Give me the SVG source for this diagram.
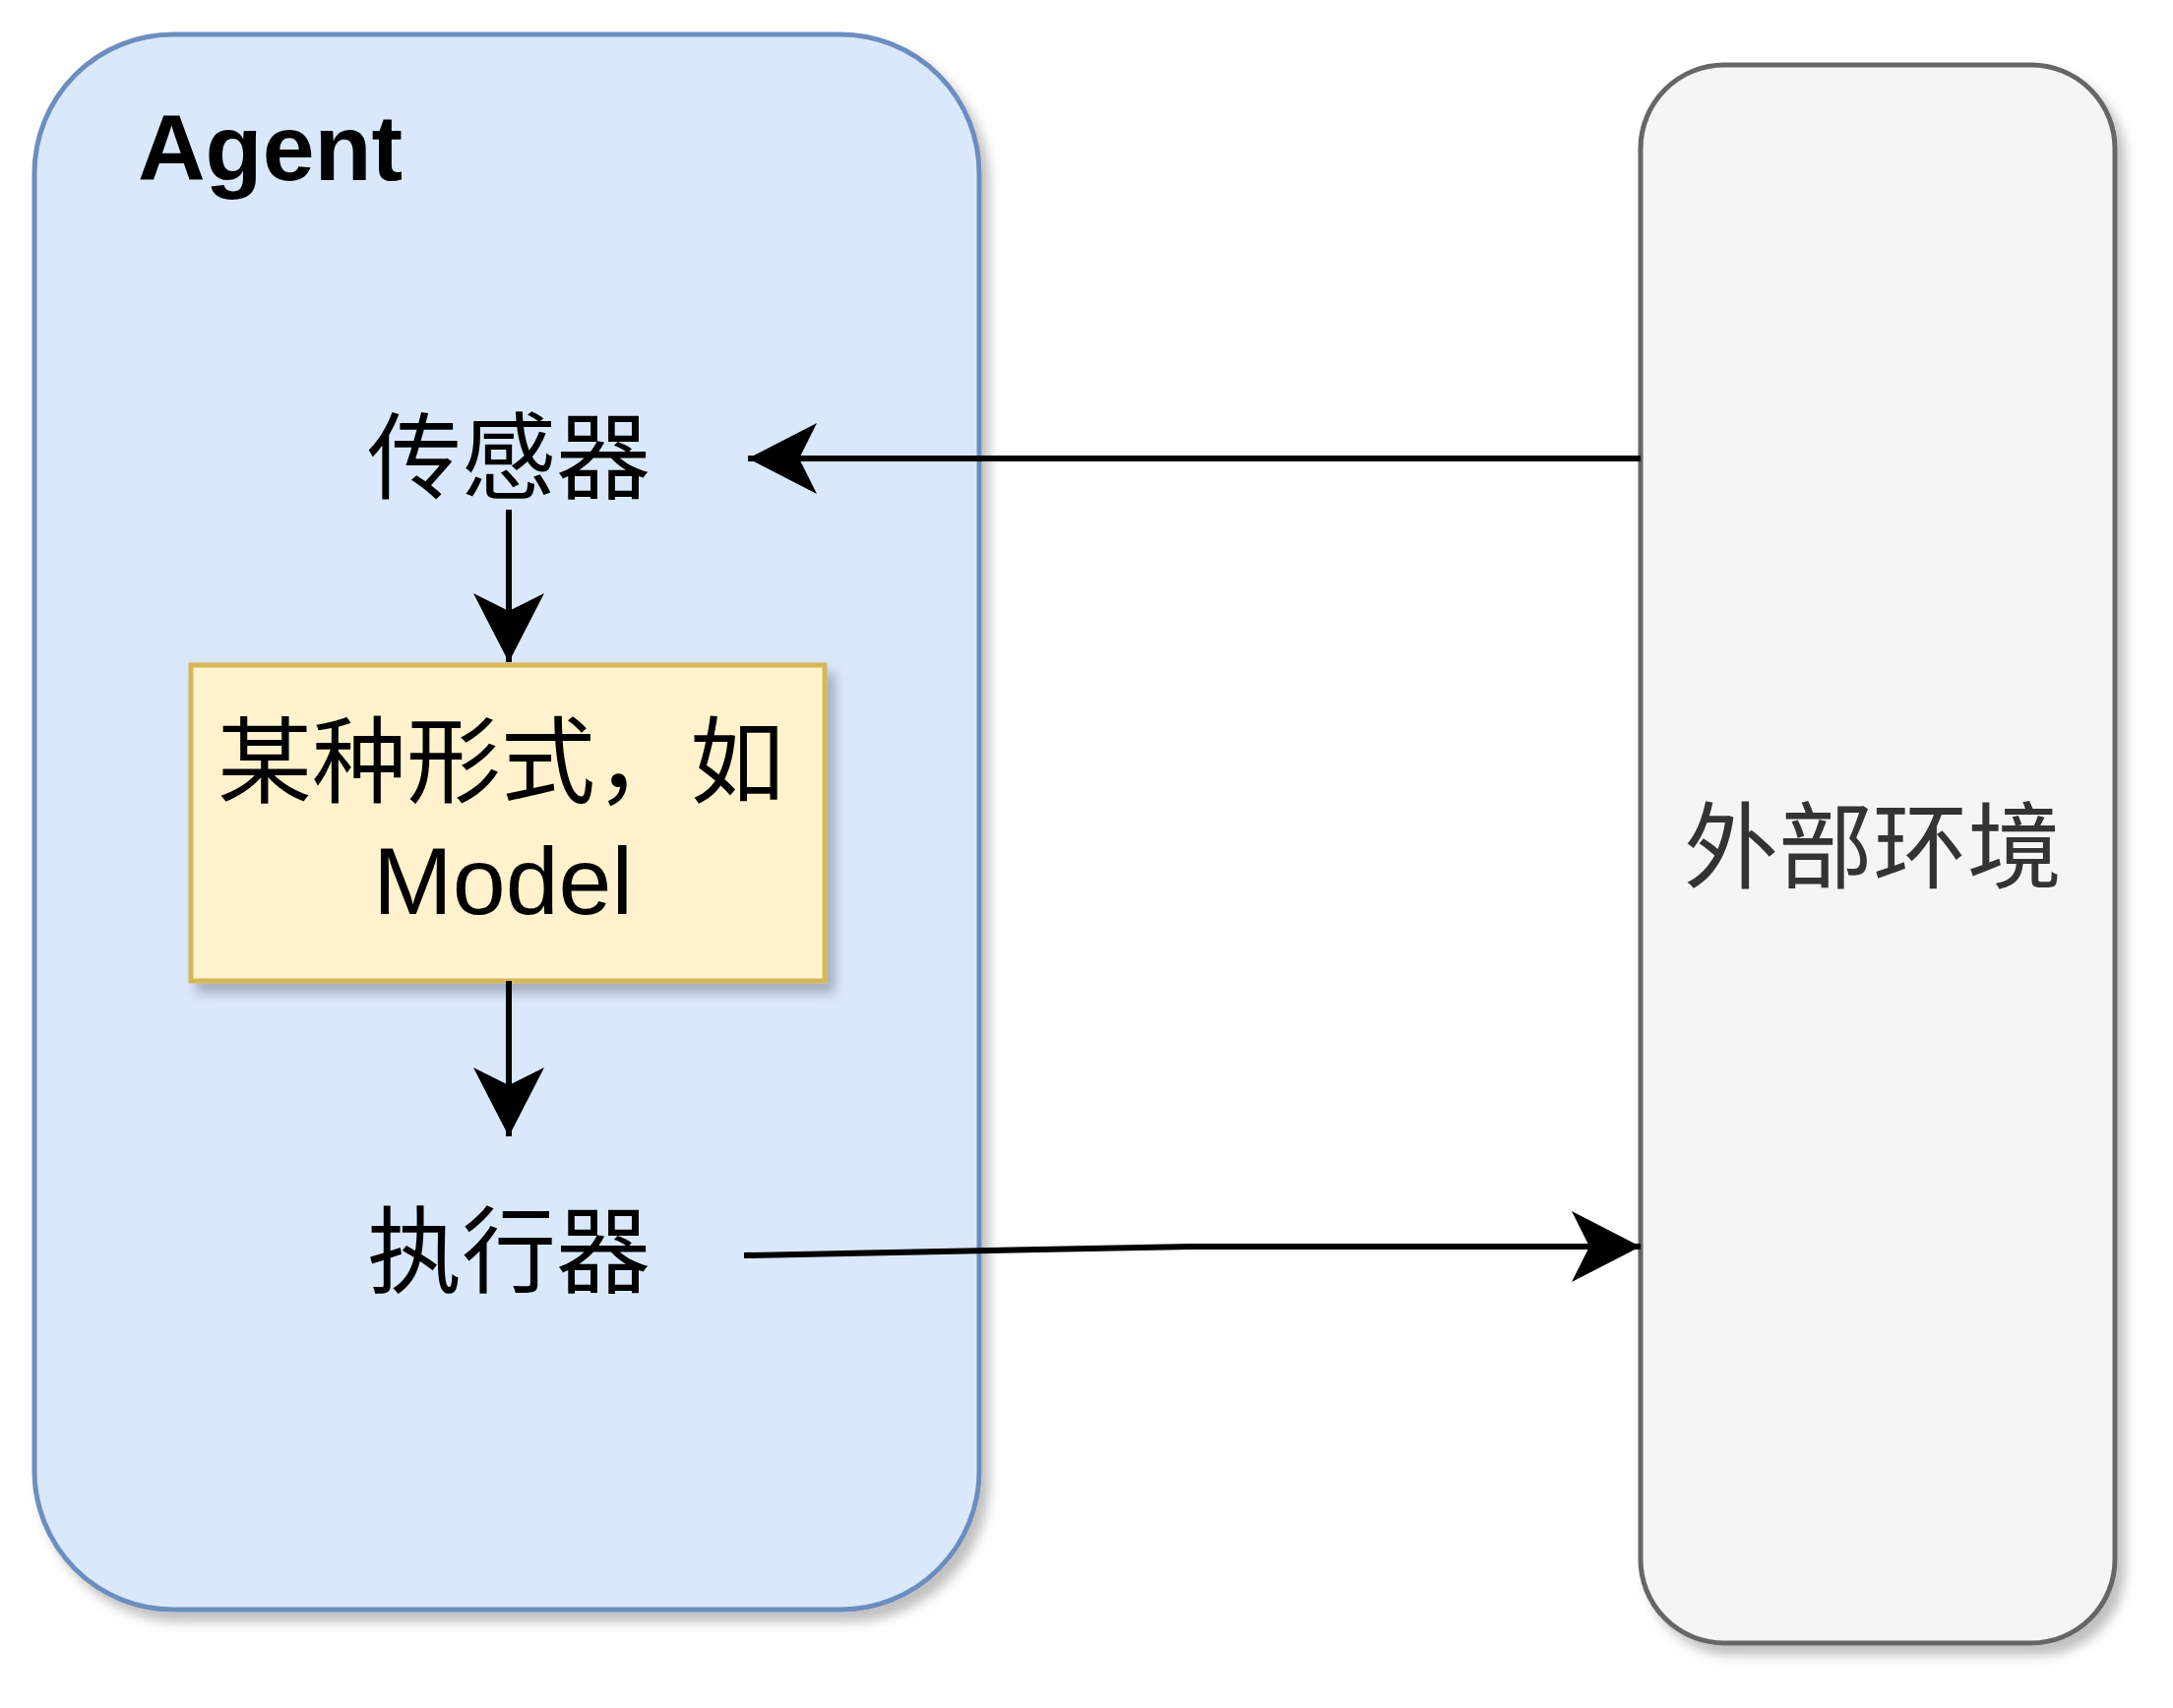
<svg xmlns="http://www.w3.org/2000/svg" width="2208" height="1736" viewBox="0 0 2208 1736">
<defs>
<filter id="sh" x="-10%" y="-10%" width="130%" height="130%"><feGaussianBlur in="SourceAlpha" stdDeviation="6"/><feOffset dx="8" dy="10"/><feComponentTransfer><feFuncA type="linear" slope="0.25"/></feComponentTransfer><feMerge><feMergeNode/><feMergeNode in="SourceGraphic"/></feMerge></filter>
<marker id="ar" viewBox="0 0 20 20" refX="18" refY="10" markerWidth="20" markerHeight="20" markerUnits="userSpaceOnUse" orient="auto" overflow="visible"><path d="M-52,-26 L18,10 L-52,46 L-34,10 Z" fill="#000"/></marker>
<style>
.t{font-family:"Liberation Sans","Noto Sans CJK SC",sans-serif;text-anchor:middle;fill:#000}
.c{stroke:#000;stroke-width:6;fill:none}
</style>
</defs>
<g id="agent"><rect x="35" y="35" width="960" height="1601" rx="141" fill="#dae8fc" stroke="#6c8ebf" stroke-width="5" filter="url(#sh)"/>
<text x="140" y="183" font-family="Liberation Sans,sans-serif" font-weight="bold" font-size="95" fill="#000">Agent</text></g>
<g id="env"><rect x="1667" y="66" width="482" height="1604" rx="85" fill="#f5f5f5" stroke="#666" stroke-width="5" filter="url(#sh)"/>
<text class="t" x="1903" y="895" font-size="96" style="fill:#333">外部环境</text></g>
<g id="sensor"><text class="t" x="517" y="499" font-size="96">传感器</text></g>
<g id="model"><rect x="194" y="676" width="644" height="321" fill="#fff2cc" stroke="#d6b656" stroke-width="5" filter="url(#sh)"/>
<text class="t" x="509" y="808" font-size="96">某种形式，如</text>
<text class="t" x="511" y="929" font-size="97">Model</text></g>
<g id="actuator"><text class="t" x="517" y="1306" font-size="96">执行器</text></g>
<g id="connectors">
<path class="c" d="M1667,466 L760,466" marker-end="url(#ar)"/>
<path class="c" d="M517,518 L517,673" marker-end="url(#ar)"/>
<path class="c" d="M517,997 L517,1155" marker-end="url(#ar)"/>
<path class="c" d="M756,1276 L1211,1267 L1667,1267" marker-end="url(#ar)"/>
</g>
</svg>
